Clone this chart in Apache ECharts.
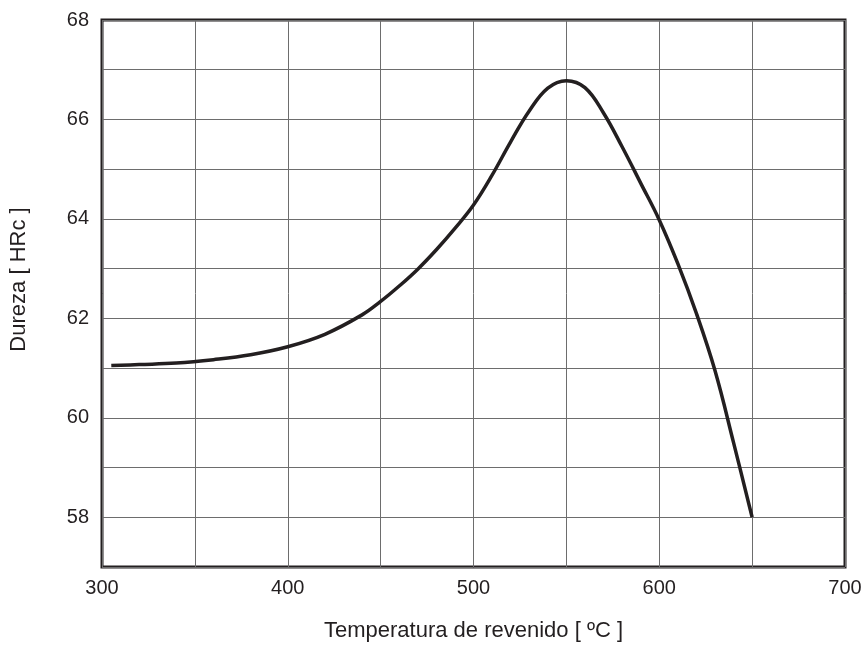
<!DOCTYPE html>
<html>
<head>
<meta charset="utf-8">
<script src="https://cdn.jsdelivr.net/npm/echarts@6/dist/echarts.min.js"></script>
<style>
  html, body { margin: 0; padding: 0; background: #fff; }
  #chart { width: 865px; height: 647px; }
</style>
</head>
<body>
<div id="chart"></div>
<script>
// temperatura de revenido (ºC) y dureza (HRc)
var temperatura = [305, 320, 340, 360, 380, 400, 420, 440, 450, 460, 470, 480, 490, 500, 510, 520, 530, 540, 550, 560, 570, 580, 590, 600, 610, 620, 630, 640, 650];
var dureza      = [61.05, 61.07, 61.1, 61.17, 61.27, 61.43, 61.68, 62.07, 62.34, 62.65, 62.99, 63.38, 63.81, 64.28, 64.88, 65.55, 66.17, 66.63, 66.78, 66.64, 66.13, 65.45, 64.72, 63.98, 63.1, 62.1, 60.95, 59.5, 58.0];

var puntos = [];
for (var i = 0; i < temperatura.length; i++) {
  puntos.push([temperatura[i], dureza[i]]);
}

var chart = echarts.init(document.getElementById('chart'));
var fuente = 'Liberation Sans, Arial, sans-serif';

var option = {
  animation: false,
  grid: {
    left: 102, top: 20, right: 20, bottom: 79,
    show: true,
    borderColor: '#231f20',
    borderWidth: 3,
    backgroundColor: 'transparent'
  },
  xAxis: {
    type: 'value',
    min: 300, max: 700, interval: 50,
    name: 'Temperatura de revenido [ ºC ]',
    nameLocation: 'middle',
    nameGap: 53,
    nameTextStyle: { fontFamily: fuente, fontSize: 22, color: '#231f20' },
    axisLine: { show: false },
    axisTick: { show: false },
    axisLabel: {
      margin: 11,
      fontFamily: fuente, fontSize: 20, color: '#231f20',
      formatter: function (v) { return v % 100 === 0 ? String(v) : ''; }
    },
    splitLine: { show: true, lineStyle: { color: '#6d6d6d', width: 1 } }
  },
  yAxis: {
    type: 'value',
    min: 57, max: 68, interval: 1,
    name: 'Dureza [ HRc ]',
    nameLocation: 'middle',
    nameGap: 72,
    nameRotate: 90,
    nameTextStyle: { fontFamily: fuente, fontSize: 22, color: '#231f20', padding: [0, 0, 0, 28] },
    axisLine: { show: false },
    axisTick: { show: false },
    axisLabel: {
      margin: 13,
      fontFamily: fuente, fontSize: 20, color: '#231f20',
      formatter: function (v) { return v % 2 === 0 ? String(v) : ''; }
    },
    splitLine: { show: true, lineStyle: { color: '#6d6d6d', width: 1 } }
  },
  series: [{
    type: 'line',
    data: puntos,
    smooth: 0.4,
    showSymbol: false,
    lineStyle: { color: '#231f20', width: 3.5 },
    z: 5
  }]
};

chart.setOption(option);
</script>
</body>
</html>
